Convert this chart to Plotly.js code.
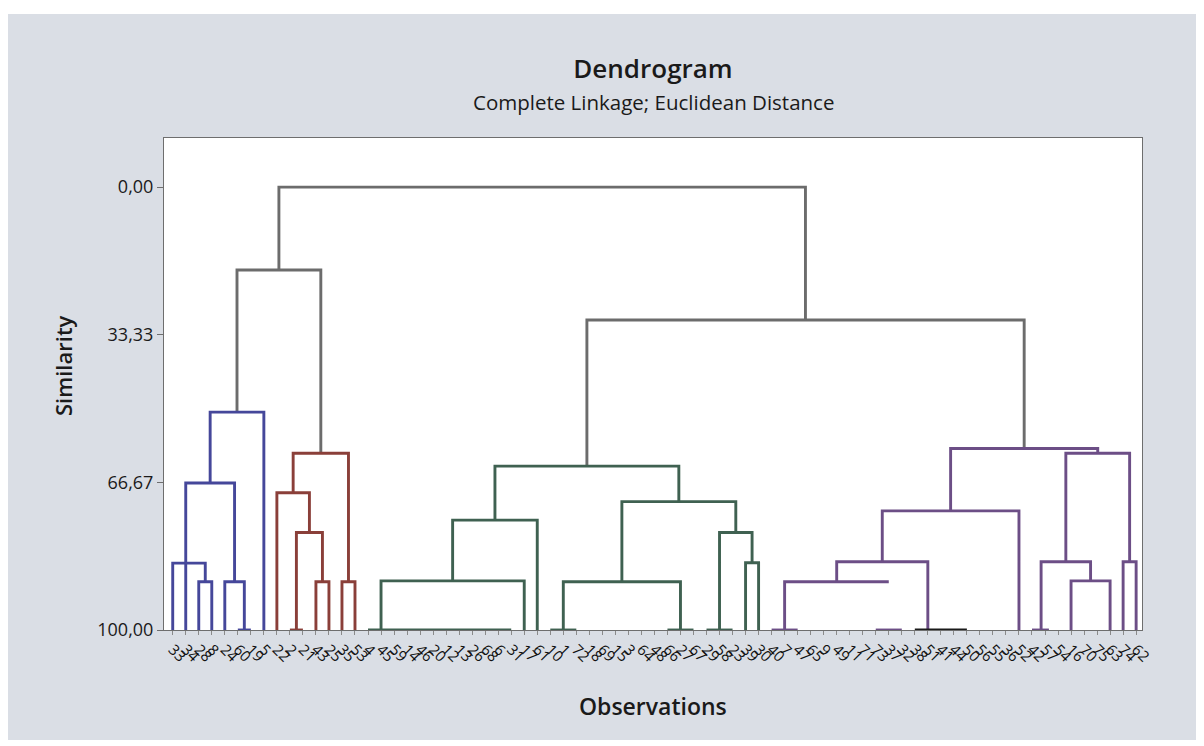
<!DOCTYPE html>
<html>
<head>
<meta charset="utf-8">
<script src="https://cdn.plot.ly/plotly-3.0.1.min.js"></script>
<style>
  html, body { margin: 0; padding: 0; background: #ffffff; }
  #chart { position: absolute; left: 8px; top: 14px; width: 1188px; height: 726px; }
</style>
</head>
<body>
<div id="chart"></div>
<script>
// Observation labels in dendrogram leaf order (left to right)
const leafLabels = [33,34,28,8,24,60,19,5,22,2,21,43,25,35,53,4,45,59,14,46,20,12,13,26,68,6,31,17,61,10,1,72,18,69,15,3,64,48,66,27,67,29,58,23,39,30,40,7,47,65,9,49,11,71,73,37,32,38,51,41,44,50,56,55,36,52,42,57,54,16,70,75,63,74,62];

// Links (U shapes): left/right leg positions (leaf index units), join similarity,
// similarity at the bottom of each leg, and cluster colour group.
const linkLeftX   = [2, 4, 0, 1, 2.875,   11, 13, 9.5, 8, 9.25,   4.9375, 31.8125, 8.156,   16, 21.5, 30, 44, 42, 34.5, 24.75,   47, 51, 54.5, 69, 66.7, 73, 68.6, 59.75];
const linkRightX  = [3, 5.5, 2.5, 4.75, 7,   12, 14, 11.5, 10.5, 13.5,   11.375, 65.4, 48.6,   27, 28, 39, 45, 44.5, 43.25, 38.875,   55, 58, 65, 72, 70.5, 74, 73.5, 71.05];
const linkJoinSim = [89.1, 89.1, 84.9, 66.8, 50.8,   89.1, 89.1, 78.0, 69.0, 60.1,   18.7, 30.0, 0.0,   88.9, 75.2, 89.1, 84.8, 78.0, 71.0, 63.0,   89.1, 84.6, 73.1, 88.9, 84.6, 84.6, 60.1, 59.0];
const linkLeftSim = [100, 100, 100, 100, 66.8,   100, 100, 100, 100, 69.0,   50.8, 63.0, 18.7,   100, 88.9, 100, 100, 100, 89.1, 75.2,   100, 89.1, 84.6, 100, 100, 100, 84.6, 73.1];
const linkRightSim= [100, 100, 89.1, 89.1, 100,   100, 100, 89.1, 78.0, 89.1,   60.1, 59.0, 30.0,   100, 100, 100, 100, 84.8, 78.0, 71.0,   89.1, 100, 100, 100, 88.9, 100, 84.6, 60.1];
const linkGroup   = ['blue','blue','blue','blue','blue',  'red','red','red','red','red',  'gray','gray','gray',  'green','green','green','green','green','green','green',  'purple','purple','purple','purple','purple','purple','purple','purple'];

// Identical observations joined at similarity 100 (drawn along the baseline)
const tieStartX = [5, 9, 15, 29, 38, 41, 46, 54, 57, 66];
const tieEndX   = [6, 10, 26, 31, 40, 43, 48, 56, 61, 67.3];
const tieGroup  = ['blue','red','green','green','green','green','purple','purple','black','purple'];

const yTickVals = [0, 33.33, 66.67, 100];
const yTickText = ['0,00', '33,33', '66,67', '100,00'];

const groupColors = {
  blue: '#45479a', red: '#8a3f39', green: '#3f6151', purple: '#6c4e86', gray: '#6c6c6c', black: '#1a1a1a'
};

const traces = [];
const groups = ['gray', 'blue', 'red', 'green', 'purple', 'black'];
groups.forEach(function (g) {
  const xs = [], ys = [];
  for (let i = 0; i < linkGroup.length; i++) {
    if (linkGroup[i] !== g) continue;
    xs.push(linkLeftX[i], linkLeftX[i], linkRightX[i], linkRightX[i], null);
    ys.push(linkLeftSim[i], linkJoinSim[i], linkJoinSim[i], linkRightSim[i], null);
  }
  for (let i = 0; i < tieGroup.length; i++) {
    if (tieGroup[i] !== g) continue;
    xs.push(tieStartX[i], tieEndX[i], null);
    ys.push(100, 100, null);
  }
  if (xs.length) {
    traces.push({
      type: 'scatter', mode: 'lines', x: xs, y: ys,
      line: { color: groupColors[g], width: 2.9 },
      hoverinfo: 'skip', showlegend: false, cliponaxis: false
    });
  }
});

const leafIdx = leafLabels.map(function (_, i) { return i; });

const layout = {
  width: 1188, height: 726,
  paper_bgcolor: '#dadee5',
  plot_bgcolor: '#ffffff',
  margin: { l: 156, r: 54, t: 124, b: 110 },
  font: { family: 'Open Sans, sans-serif', color: '#1a1a1a' },
  title: {
    text: 'Dendrogram',
    font: { size: 26, family: 'Open Sans, sans-serif', weight: 600, color: '#1a1a1a' },
    x: 0.5, xref: 'paper', xanchor: 'center',
    y: 1 - (69 - 14) / 726, yref: 'container', yanchor: 'middle'
  },
  xaxis: {
    range: [-0.67, 74.45],
    tickmode: 'array', tickvals: leafIdx, ticktext: leafLabels.map(String),
    tickangle: 45, tickfont: { size: 15, color: '#111111' },
    ticks: 'outside', ticklen: 4, tickcolor: '#8a8a8a', tickwidth: 1,
    showgrid: false, zeroline: false,
    showline: true, mirror: true, linecolor: '#6e6e6e', linewidth: 1
  },
  yaxis: {
    range: [100, -11.1],
    tickmode: 'array', tickvals: yTickVals, ticktext: yTickText,
    tickfont: { size: 18, color: '#1a1a1a' },
    ticks: 'outside', ticklen: 6, tickcolor: '#6e6e6e', tickwidth: 1,
    showgrid: false, zeroline: false,
    showline: true, mirror: true, linecolor: '#6e6e6e', linewidth: 1
  },
  annotations: [
    { text: 'Complete Linkage; Euclidean Distance', xref: 'paper', yref: 'paper',
      x: 0.5, y: 1 + (138 - 102) / 492, xanchor: 'center', yanchor: 'middle',
      showarrow: false, font: { size: 20.5, color: '#1a1a1a' } },
    { text: 'Similarity', xref: 'paper', yref: 'paper',
      x: -(164 - 63) / 978, y: 1 - (366 - 138) / 492, xanchor: 'center', yanchor: 'middle',
      textangle: -90, showarrow: false, font: { size: 22, weight: 600, color: '#1a1a1a' } },
    { text: 'Observations', xref: 'paper', yref: 'paper',
      x: 0.5, y: -(706 - 630) / 492, xanchor: 'center', yanchor: 'middle',
      showarrow: false, font: { size: 23, weight: 600, color: '#1a1a1a' } }
  ]
};

Plotly.newPlot('chart', traces, layout, { displayModeBar: false, staticPlot: true });
</script>
</body>
</html>
